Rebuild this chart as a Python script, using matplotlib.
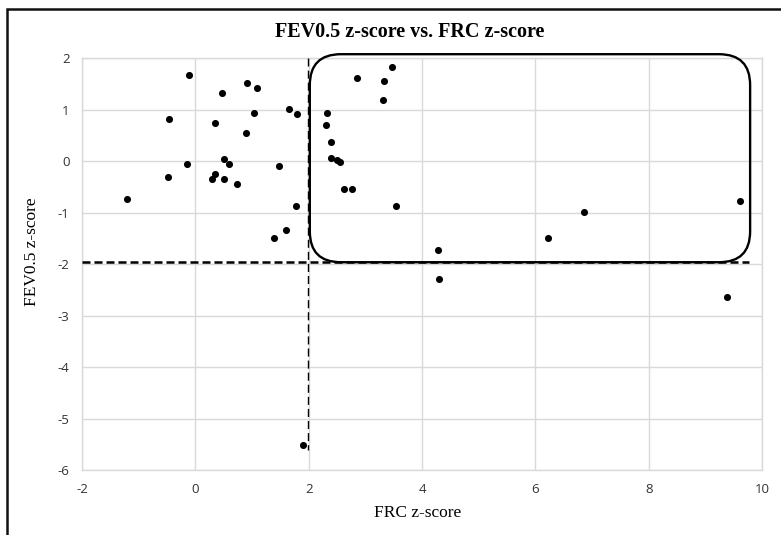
import matplotlib
matplotlib.use("Agg")
from matplotlib import pyplot as plt
from matplotlib.patches import FancyBboxPatch, Rectangle

plt.rcParams["axes.unicode_minus"] = False

# FRC z-score (x) and FEV0.5 z-score (y)
frc = [-1.21, -0.46, -0.49, -0.11, -0.15, 0.47, 0.35, 0.50, 0.60, 0.35,
       0.29, 0.51, 0.74, 0.92, 1.08, 1.03, 0.90, 1.66, 1.80, 1.48,
       1.78, 1.39, 1.60, 2.33, 2.31, 2.39, 2.40, 2.50, 2.56, 2.63,
       2.76, 2.86, 3.33, 3.32, 3.47, 3.54, 4.28, 6.22, 6.85, 9.61,
       4.30, 9.39, 1.90]
fev = [-0.73, 0.82, -0.30, 1.68, -0.06, 1.33, 0.74, 0.04, -0.06, -0.24,
       -0.34, -0.35, -0.45, 1.53, 1.42, 0.94, 0.54, 1.02, 0.91, -0.09,
       -0.86, -1.48, -1.33, 0.94, 0.70, 0.37, 0.06, 0.02, -0.01, -0.53,
       -0.53, 1.62, 1.56, 1.19, 1.83, -0.86, -1.73, -1.48, -0.99, -0.78,
       -2.29, -2.63, -5.50]

x_ticks = [-2, 0, 2, 4, 6, 8, 10]
y_ticks = [-6, -5, -4, -3, -2, -1, 0, 1, 2]

# cut-off lines and the highlighted region
frc_cut = 1.98
fev_cut = -1.96
box_x0, box_x1 = 2.02, 9.79
box_y0, box_y1 = -1.96, 2.08

grid_color = "#d9d9d9"

fig = plt.figure(figsize=(7.81, 5.35), dpi=100)
ax = fig.add_axes([0.105, 0.121, 0.8707, 0.770])

# outer frame (only left and top edges visible in the reference)
fig.patches.append(Rectangle((0.009, -0.1), 1.2, 1.083, transform=fig.transFigure,
                             fill=False, edgecolor="#111111", linewidth=1.8))

ax.set_xlim(-2, 10)
ax.set_ylim(-6, 2)
ax.set_xticks(x_ticks)
ax.set_yticks(y_ticks)
ax.grid(True, color=grid_color, linewidth=1.0)
ax.set_axisbelow(True)
for side in ax.spines.values():
    side.set_color(grid_color)
    side.set_linewidth(1.0)
ax.tick_params(length=0, labelsize=9.5, labelcolor="#333333", pad=9)
for lab in ax.get_xticklabels() + ax.get_yticklabels():
    lab.set_family("Open Sans")

ax.plot([-2, box_x1 - 0.02], [fev_cut, fev_cut], color="black", linewidth=1.8,
        linestyle=(0, (3.2, 1.6)), zorder=3)
ax.plot([frc_cut, frc_cut], [2, -5.6], color="black", linewidth=1.0,
        linestyle=(0, (5.8, 2.9)), zorder=3)

box = FancyBboxPatch((box_x0, box_y0), box_x1 - box_x0, box_y1 - box_y0,
                     boxstyle="round,pad=0,rounding_size=0.55",
                     mutation_aspect=0.6 / 0.55, fill=False,
                     edgecolor="black", linewidth=1.7, zorder=4,
                     clip_on=False)
ax.add_patch(box)

ax.scatter(frc, fev, s=26, color="black", zorder=5, linewidths=0)

fig.text(0.524, 0.94, "FEV0.5 z-score vs. FRC z-score", ha="center", va="center",
         family="Liberation Serif", fontweight="bold", fontsize=14.5)
fig.text(0.535, 0.041, "FRC z-score", ha="center", va="center",
         family="Liberation Serif", fontsize=12.5)
fig.text(0.041, 0.529, "FEV0.5 z-score", ha="center", va="center", rotation=90,
         family="Liberation Serif", fontsize=12.5)

fig.savefig("out.png", dpi=100)
